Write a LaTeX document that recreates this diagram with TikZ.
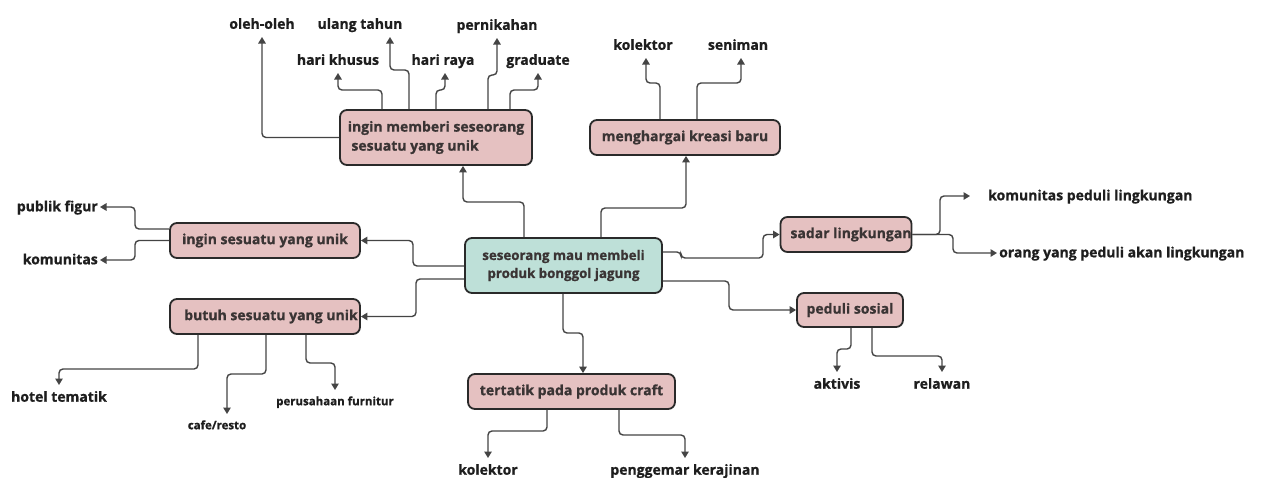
\documentclass[tikz,border=0pt]{standalone}
\usepackage{fontspec}
\setmainfont{Open Sans}[BoldFeatures={FakeBold=0.9}]
\usetikzlibrary{arrows.meta}
\definecolor{pinkfill}{HTML}{E5C1C1}
\definecolor{tealfill}{HTML}{BEE0D8}
\definecolor{boxline}{HTML}{2A2A2A}
\definecolor{connline}{HTML}{444444}
\definecolor{boxtext}{HTML}{3A3434}
\definecolor{leaftext}{HTML}{1E1E1E}
\tikzset{
  mbox/.style={draw=boxline, line width=1.8pt, rounded corners=7pt, fill=pinkfill,
    text=boxtext, font=\bfseries\fontsize{14}{19}\selectfont, inner sep=0pt},
  cbox/.style={mbox, fill=tealfill, font=\bfseries\fontsize{13.3}{18}\selectfont},
  leaf/.style={text=leaftext, font=\bfseries\fontsize{14}{16}\selectfont,
    inner xsep=2pt, inner ysep=6pt, text height=10.5pt, text depth=2pt},
  smallleaf/.style={leaf, font=\bfseries\fontsize{11.5}{13}\selectfont, text height=9pt},
  conn/.style={draw=connline, line width=1.4pt, rounded corners=4pt,
    -{Triangle[length=6.5pt,width=7.5pt]}}
}
\begin{document}
\begin{tikzpicture}[x=1pt,y=-1pt]
\path[use as bounding box, fill=white] (0,0) rectangle (1266,477);

% main boxes
\node[cbox, minimum width=197pt, minimum height=55pt, align=center] (C) at (563.5,265.5)
  {seseorang mau membeli\\produk bonggol jagung};
\node[mbox, minimum width=192pt, minimum height=55pt, align=left] (MB) at (436,137.5)
  {ingin memberi seseorang\\\ sesuatu yang unik};
\node[mbox, minimum width=190pt, minimum height=35pt] (MK) at (685,137.5) {menghargai kreasi baru};
\node[mbox, minimum width=190pt, minimum height=35pt] (IS) at (265,240.5) {ingin sesuatu yang unik};
\node[mbox, minimum width=190pt, minimum height=35pt] (BS) at (265,316.5) {\hspace*{12pt}butuh sesuatu yang unik};
\node[mbox, minimum width=207pt, minimum height=35pt] (TP) at (571.5,391.5) {tertatik pada produk craft};
\node[mbox, minimum width=130pt, minimum height=35pt] (SL) at (846,234.5) {\hspace*{10pt}sadar lingkungan};
\node[mbox, minimum width=106pt, minimum height=34pt] (PS) at (850,310) {peduli sosial};

% leaves
\node[leaf, anchor=south] (ol) at (262,37) {oleh-oleh};
\node[leaf, anchor=south] (ut) at (360,37) {ulang tahun};
\node[leaf, anchor=south] (pn) at (497,38) {pernikahan};
\node[leaf, anchor=south] (hk) at (338,73) {hari khusus};
\node[leaf, anchor=south] (hr) at (443,73) {hari raya};
\node[leaf, anchor=south] (gr) at (538,73) {graduate};
\node[leaf, anchor=south] (k1) at (643,58) {kolektor};
\node[leaf, anchor=south] (sn) at (738,58) {seniman};
\node[leaf, anchor=east] (pf) at (100,207) {publik figur};
\node[leaf, anchor=east] (km) at (100,260) {komunitas};
\node[leaf, anchor=north] (ht) at (59,385) {hotel tematik};
\node[smallleaf, anchor=north] (cr) at (217,414) {cafe/resto};
\node[smallleaf, anchor=north] (pu) at (335,390) {perusahaan furnitur};
\node[leaf, anchor=north] (k2) at (488,458) {kolektor};
\node[leaf, anchor=north] (pk) at (685,458) {penggemar kerajinan};
\node[leaf, anchor=west, inner xsep=0pt] (kpl) at (988,196) {komunitas peduli lingkungan};
\node[leaf, anchor=west] (oyp) at (997,253) {orang yang peduli akan lingkungan};
\node[leaf, anchor=north] (ak) at (837,372) {aktivis};
\node[leaf, anchor=north] (rl) at (942,372) {relawan};

% connectors from central
\draw[conn] (C.north -| 524,0) -- (524,202) -| (MB.south -| 463,0);
\draw[conn] (C.north -| 601,0) -- (601,208) -| (MK.south -| 686,0);
\draw[conn] (C.west |- 0,266) -| (413,240.5) -- (IS.east);
\draw[conn] (C.west |- 0,279) -| (416,316.5) -- (BS.east);
\draw[conn] (C.south -| 563,0) -- (563,333) -| (TP.north -| 583,0);
\draw[conn] (C.east |- 0,252) -- (681,252) -- (681,258) -- (763,258) |- (SL.west);
\draw[conn] (C.east |- 0,281) -| (729,310) -- (PS.west);

% memberi leaves
\draw[conn] (MB.west) -| (ol.south);
\draw[conn] (MB.north -| 382,0) -- (382,90) -| (hk.south);
\draw[conn] (MB.north -| 409,0) -- (409,70) -| (ut.south -| 390,0);
\draw[conn] (MB.north -| 436,0) -- (436,90) -| (hr.south -| 445,0);
\draw[conn] (MB.north -| 488,0) -- (488,75) -| (pn.south);
\draw[conn] (MB.north -| 510,0) -- (510,90) -| (gr.south);

% menghargai leaves
\draw[conn] (MK.north -| 660,0) -- (660,83) -| (k1.south -| 646,0);
\draw[conn] (MK.north -| 697,0) -- (697,83) -| (sn.south -| 741,0);

% ingin sesuatu leaves
\draw[conn] (IS.west |- 0,229) -| (135,207) -- (pf.east);
\draw[conn] (IS.west) -| (135,260) -- (km.east);

% butuh leaves
\draw[conn] (BS.south -| 198,0) -- (198,369) -| (ht.north);
\draw[conn] (BS.south -| 266,0) -- (266,374) -| (cr.north -| 227,0);
\draw[conn] (BS.south -| 306,0) -- (306,363) -| (pu.north);

% tertatik leaves
\draw[conn] (TP.south -| 547,0) -- (547,431) -| (k2.north);
\draw[conn] (TP.south -| 619,0) -- (619,435) -| (pk.north);

% sadar leaves
\draw[conn] (SL.east) -| (940,196) -- (kpl.west -| 970,0);
\draw[conn] (SL.east) -| (953,253) -- (oyp.west);

% peduli sosial leaves
\draw[conn] (PS.south -| 851,0) -- (851,349) -| (ak.north);
\draw[conn] (PS.south -| 872,0) -- (872,356) -| (rl.north);
\end{tikzpicture}
\end{document}
